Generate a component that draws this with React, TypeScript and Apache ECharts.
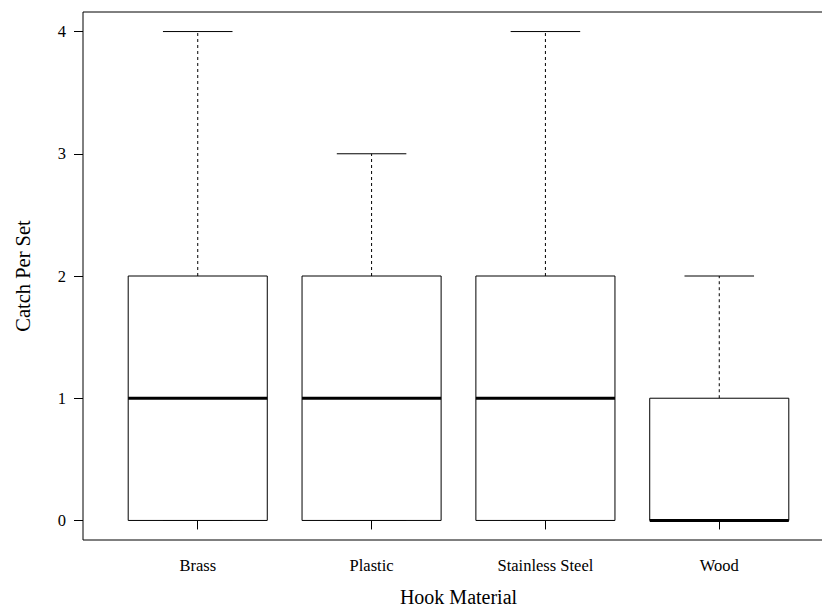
import React, { useEffect, useRef } from "react";
import * as echarts from "echarts";

const categories = ["Brass", "Plastic", "Stainless Steel", "Wood"];
const lowerWhisker = [0, 0, 0, 0];
const q1 = [0, 0, 0, 0];
const median = [1, 1, 1, 0];
const q3 = [2, 2, 2, 1];
const upperWhisker = [4, 3, 4, 2];
const yTicks = [0, 1, 2, 3, 4];

const FONT = "'Liberation Serif', 'Times New Roman', serif";

export default function App() {
  const ref = useRef<HTMLDivElement>(null);
  useEffect(() => {
    if (!ref.current) return;
    const chart = echarts.init(ref.current, null, { renderer: "svg" });
    const data = categories.map((_, i) => [
      i + 1,
      lowerWhisker[i],
      q1[i],
      median[i],
      q3[i],
      upperWhisker[i],
    ]);
    const xTicks = categories.map((_, i) => i + 1);
    const halfBox = 0.4;
    const halfCap = 0.2;
    chart.setOption({
      animation: false,
      backgroundColor: "#fff",
      grid: {
        left: 83,
        top: 12,
        width: 751,
        height: 528,
        show: true,
        borderColor: "#000",
        borderWidth: 1,
        backgroundColor: "transparent",
        containLabel: false,
        outerBoundsMode: "none",
      },
      xAxis: {
        type: "value",
        min: 0.34,
        max: 4.66,
        splitLine: { show: false },
        axisLine: { show: false },
        axisTick: {
          show: true,
          length: 9,
          customValues: xTicks,
          lineStyle: { color: "#000", width: 1 },
        },
        axisLabel: {
          customValues: xTicks,
          formatter: (v: number) => categories[Math.round(v) - 1] ?? "",
          fontFamily: FONT,
          fontSize: 16.5,
          color: "#000",
          margin: 17,
        },
        name: "Hook Material",
        nameLocation: "middle",
        nameGap: 47,
        nameTextStyle: { fontFamily: FONT, fontSize: 20, color: "#000" },
      },
      yAxis: {
        type: "value",
        min: -0.16,
        max: 4.16,
        splitLine: { show: false },
        axisLine: { show: false },
        axisTick: {
          show: true,
          length: 9,
          customValues: yTicks,
          lineStyle: { color: "#000", width: 1 },
        },
        axisLabel: {
          customValues: yTicks,
          fontFamily: FONT,
          fontSize: 16.5,
          color: "#000",
          margin: 17,
        },
        name: "Catch Per Set",
        nameLocation: "middle",
        nameGap: 50,
        nameTextStyle: { fontFamily: FONT, fontSize: 20.5, color: "#000" },
      },
      series: [
        {
          type: "custom",
          data,
          encode: { x: 0, y: [1, 2, 3, 4, 5] },
          renderItem: (params: any, api: any) => {
            const x = api.value(0);
            const lo = api.value(1);
            const b1 = api.value(2);
            const md = api.value(3);
            const b3 = api.value(4);
            const hi = api.value(5);
            const tl = api.coord([x - halfBox, b3]);
            const br = api.coord([x + halfBox, b1]);
            const mL = api.coord([x - halfBox, md]);
            const mR = api.coord([x + halfBox, md]);
            const wTop = api.coord([x, hi]);
            const wQ3 = api.coord([x, b3]);
            const wBot = api.coord([x, lo]);
            const wQ1 = api.coord([x, b1]);
            const capHL = api.coord([x - halfCap, hi]);
            const capHR = api.coord([x + halfCap, hi]);
            const capLL = api.coord([x - halfCap, lo]);
            const capLR = api.coord([x + halfCap, lo]);
            const thin = { stroke: "#000", lineWidth: 1, fill: null };
            const dashed = { stroke: "#000", lineWidth: 1, lineDash: [3, 3] };
            return {
              type: "group",
              children: [
                {
                  type: "line",
                  shape: { x1: wQ3[0], y1: wQ3[1], x2: wTop[0], y2: wTop[1] },
                  style: dashed,
                },
                {
                  type: "line",
                  shape: { x1: wQ1[0], y1: wQ1[1], x2: wBot[0], y2: wBot[1] },
                  style: dashed,
                },
                {
                  type: "line",
                  shape: { x1: capHL[0], y1: capHL[1], x2: capHR[0], y2: capHR[1] },
                  style: thin,
                },
                {
                  type: "line",
                  shape: { x1: capLL[0], y1: capLL[1], x2: capLR[0], y2: capLR[1] },
                  style: thin,
                },
                {
                  type: "rect",
                  shape: {
                    x: tl[0],
                    y: tl[1],
                    width: br[0] - tl[0],
                    height: br[1] - tl[1],
                  },
                  style: { stroke: "#000", lineWidth: 1, fill: "#fff" },
                },
                {
                  type: "line",
                  shape: { x1: mL[0], y1: mL[1], x2: mR[0], y2: mR[1] },
                  style: { stroke: "#000", lineWidth: 3 },
                },
              ],
            };
          },
        },
      ],
    });
    return () => chart.dispose();
  }, []);
  return (
    <div
      style={{
        position: "fixed",
        left: 0,
        top: 0,
        width: 822,
        height: 609,
        overflow: "hidden",
        background: "#fff",
      }}
    >
      <div ref={ref} style={{ width: 840, height: 609 }} />
    </div>
  );
}
